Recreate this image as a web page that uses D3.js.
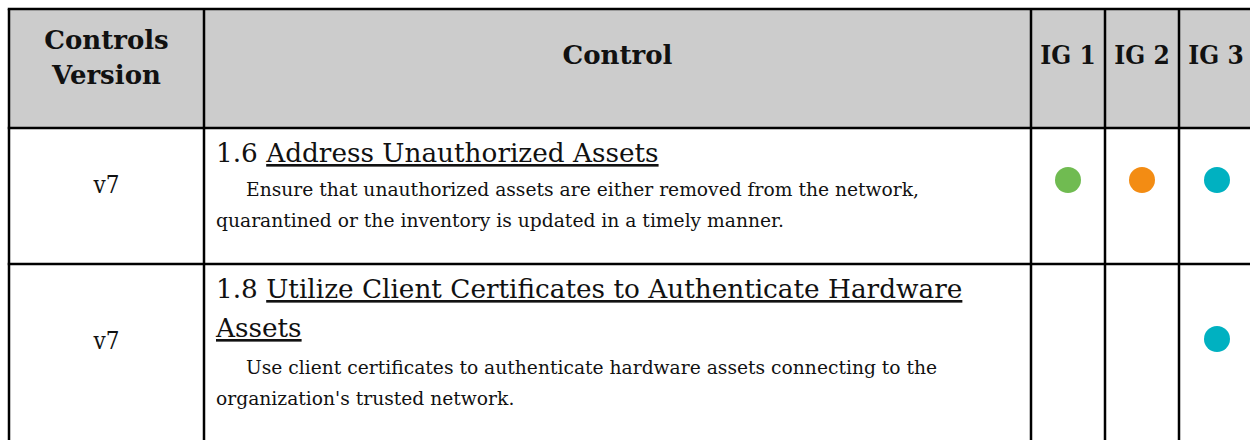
<!DOCTYPE html>
<html><head><meta charset="utf-8">
<script src="https://cdn.jsdelivr.net/npm/d3@7"></script>
<style>
html,body{margin:0;padding:0;background:#fff;}
svg{display:block;}
</style></head>
<body>
<svg id="c" width="1250" height="440"></svg>
<script>
// ---- data ----
const headers = ["Controls|Version", "Control", "IG 1", "IG 2", "IG 3"];
const versions = ["v7", "v7"];
const controlIds = ["1.6", "1.8"];
const titleLines = [["Address Unauthorized Assets"], ["Utilize Client Certificates to Authenticate Hardware", "Assets"]];
const descLines = [
  ["Ensure that unauthorized assets are either removed from the network,", "quarantined or the inventory is updated in a timely manner."],
  ["Use client certificates to authenticate hardware assets connecting to the", "organization's trusted network."]
];
const ig1 = [true, false];
const ig2 = [true, false];
const ig3 = [true, true];
const igColors = ["#70bb51", "#f38c13", "#00b1c1"];

// ---- layout ----
const FONT = "'DejaVu Serif',serif";
const FONT_C = "'DejaVu Serif Condensed','DejaVu Serif',serif";
const colEdges = [9, 204, 1031, 1105, 1179, 1255];
const rowEdges = [9, 128, 264, 460];
const svg = d3.select("#c");

const x = d3.scaleOrdinal().domain(d3.range(5)).range(colEdges.slice(0, 5));
const y = d3.scaleOrdinal().domain(d3.range(3)).range(rowEdges.slice(0, 3));
const colW = i => colEdges[i + 1] - colEdges[i];
const rowH = i => rowEdges[i + 1] - rowEdges[i];

// header background
svg.append("rect").attr("x", colEdges[0]).attr("y", rowEdges[0])
  .attr("width", 1250 - colEdges[0]).attr("height", rowH(0)).attr("fill", "#cccccc");

// header text
const hg = svg.append("g").attr("font-weight", "bold")
  .attr("font-size", 26).attr("fill", "#111").attr("text-anchor", "middle");
headers.forEach((h, i) => {
  const lines = h.split("|");
  const cx = x(i) + colW(i) / 2 - (i === 4 ? 1 : 0);
  const t = hg.append("text").attr("x", cx).attr("font-family", i >= 2 ? FONT_C : FONT);
  if (lines.length === 2) {
    t.append("tspan").attr("x", cx).attr("y", 49).text(lines[0]);
    t.append("tspan").attr("x", cx).attr("y", 84).text(lines[1]);
  } else {
    t.attr("y", 64).text(lines[0]);
  }
});

// body rows
const bg = svg.append("g").attr("font-family", FONT).attr("fill", "#111");
versions.forEach((v, r) => {
  const top = y(r + 1);
  const vy = r === 0 ? 193 : 349;
  bg.append("text").attr("x", x(0) + colW(0) / 2).attr("y", vy).attr("font-family", FONT_C)
    .attr("text-anchor", "middle").attr("font-size", 24).text(v);

  // title
  const tx = x(1) + 12;
  const tLines = titleLines[r];
  const titleBase = top + 34;
  const t = bg.append("text").attr("font-size", 26.3);
  tLines.forEach((ln, k) => {
    const ts = t.append("tspan").attr("x", tx).attr("y", titleBase + k * 39);
    if (k === 0) {
      ts.text(controlIds[r] + " ");
      ts.append("tspan").attr("text-decoration", "underline").text(ln);
    } else {
      ts.attr("text-decoration", "underline").text(ln);
    }
  });
  const descBase = titleBase + (tLines.length - 1) * 39 + 34 + (r === 1 ? 3 : 0);
  const d = bg.append("text").attr("font-size", 18.7);
  descLines[r].forEach((ln, k) => {
    d.append("tspan").attr("x", k === 0 ? tx + 30 : tx).attr("y", descBase + k * 31).text(ln);
  });

  // IG dots
  const flags = [ig1[r], ig2[r], ig3[r]];
  const cy = r === 0 ? 180 : 339;
  svg.append("g").selectAll("circle").data(flags.map((f, i) => ({f, i})).filter(o => o.f))
    .join("circle")
    .attr("cx", o => x(o.i + 2) + colW(o.i + 2) / 2)
    .attr("cy", cy).attr("r", 13).attr("fill", o => igColors[o.i]);
});

// grid lines
const grid = svg.append("g").attr("stroke", "#000").attr("stroke-width", 2.5);
colEdges.slice(0, 5).forEach(cx => grid.append("line").attr("x1", cx).attr("x2", cx)
  .attr("y1", rowEdges[0]).attr("y2", 440));
rowEdges.slice(0, 3).forEach(ry => grid.append("line").attr("x1", colEdges[0] - 1.25).attr("x2", 1250)
  .attr("y1", ry).attr("y2", ry));
</script>
</body></html>
